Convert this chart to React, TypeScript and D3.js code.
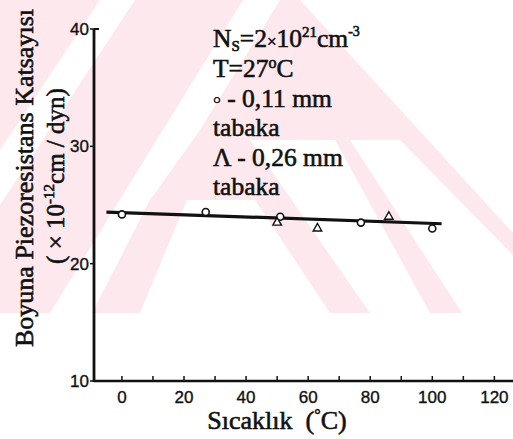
import React from "react";
import * as d3 from "d3";

// values
const circleTemp = [0, 27, 51, 77, 100];
const circleCoef = [24.2, 24.4, 24.0, 23.5, 23.0];
const triTemp = [50, 63, 86];
const triCoef = [23.5, 23.0, 24.0];
const fitTemp = [-5, 103];
const fitCoef = [24.4, 23.4];
const xTicks = [0, 20, 40, 60, 80, 100, 120];
const xMinor = d3.range(0, 130, 10);
const yTicks = [10, 20, 30, 40];

const W = 513;
const H = 439;

const serif = "'Liberation Serif', 'Times New Roman', serif";
const sans = "'Liberation Sans', Arial, sans-serif";
const pink = "#fde8ee";
const ink = "#111";

const App = () => {
  const x = d3.scaleLinear().domain([-9, 126]).range([94, 513]);
  const y = d3.scaleLinear().domain([10, 40]).range([381, 29]);

  const fit = d3
    .line<number>()
    .x((d, i) => x(fitTemp[i]))
    .y((d) => y(d));

  const tri = d3.symbol().type(d3.symbolTriangle).size(32)();

  // background watermark: pink base with white diagonal bands
  const wmBase = "M0,0 L300,0 L513,233 L513,313 L0,313 Z";
  const wmWhite = [
    "M0,150 L100,0 L135,0 L0,205 Z",
    "M50,313 L243,0 L280,0 L200,130 L150,200 L92,313 Z",
    "M187,200 L255,200 L330,313 L140,313 Z",
    "M250,140 L335,140 L430,313 L370,313 Z",
    "M350,140 L400,140 L513,255 L513,313 L462,313 Z",
  ];

  const txt = { stroke: ink, strokeWidth: 0.6 };

  return (
    <svg
      width={W}
      height={H}
      style={{ position: "absolute", left: 0, top: 0, background: "#fff" }}
    >
      <path d={wmBase} fill={pink} />
      <g fill="#fff">
        {wmWhite.map((d, i) => (
          <path key={i} d={d} />
        ))}
      </g>

      {/* y axis */}
      <line x1={x(-9)} x2={x(-9)} y1={y(40)} y2={y(10) + 1} stroke={ink} strokeWidth={2.8} />
      <line x1={x(-9)} x2={x(-9) + 5} y1={y(40)} y2={y(40)} stroke={ink} strokeWidth={2} />
      {yTicks.map((t) => (
        <g key={t}>
          <line x1={x(-9) - 4} x2={x(-9)} y1={y(t)} y2={y(t)} stroke={ink} strokeWidth={1.5} />
          <text
            x={x(-9) - 5}
            y={y(t)}
            dy="0.36em"
            textAnchor="end"
            fontFamily={sans}
            fontSize={17}
            fill={ink}
            stroke={ink}
            strokeWidth={0.35}
          >
            {t}
          </text>
        </g>
      ))}

      {/* x axis */}
      <line x1={x(-9)} x2={W} y1={y(10)} y2={y(10)} stroke={ink} strokeWidth={2.4} />
      {xMinor.map((t) => (
        <line key={t} x1={x(t)} x2={x(t)} y1={y(10)} y2={y(10) - 5} stroke={ink} strokeWidth={1.5} />
      ))}
      {xTicks.map((t) => (
        <text
          key={t}
          x={x(t)}
          y={y(10) + 22}
          textAnchor="middle"
          fontFamily={sans}
          fontSize={17}
          fill={ink}
          stroke={ink}
          strokeWidth={0.35}
        >
          {t}
        </text>
      ))}

      {/* fitted line */}
      <path d={fit(fitCoef) || ""} fill="none" stroke={ink} strokeWidth={3.2} />

      {circleTemp.map((t, i) => (
        <circle
          key={t}
          cx={x(t)}
          cy={y(circleCoef[i])}
          r={3.5}
          fill="#fff"
          stroke={ink}
          strokeWidth={1.6}
        />
      ))}
      {triTemp.map((t, i) => (
        <path
          key={t}
          d={tri}
          transform={`translate(${x(t)},${y(triCoef[i])})`}
          fill="#fff"
          stroke={ink}
          strokeWidth={1.4}
        />
      ))}

      {/* annotation */}
      <g fontFamily={serif} fontSize={25.5} fill={ink} {...txt}>
        <text x={213} y={47}>
          N<tspan fontSize={15} dy={4}>S</tspan>
          <tspan dy={-4}>=2</tspan>
          <tspan fontSize={17}>×</tspan>10
          <tspan fontSize={15} dy={-10}>21</tspan>
          <tspan dy={10}>cm</tspan>
          <tspan fontSize={14} dy={-11}>-3</tspan>
        </text>
        <text x={213} y={77}>
          T=27<tspan fontSize={16} dy={-9}>o</tspan>
          <tspan dy={9}>C</tspan>
        </text>
        <text x={213} y={107}>
          <tspan fontSize={13} dy={-3}>○</tspan>
          <tspan dy={3}> - 0,11 mm</tspan>
        </text>
        <text x={213} y={136}>tabaka</text>
        <text x={213} y={166}>Λ - 0,26 mm</text>
        <text x={213} y={195}>tabaka</text>
      </g>

      {/* axis titles */}
      <text
        transform="translate(33,178) rotate(-90)"
        textAnchor="middle"
        fontFamily={serif}
        fontSize={26}
        fill={ink}
        {...txt}
      >
        Boyuna Piezoresistans Katsayısı
      </text>
      <text
        transform="translate(64,176) rotate(-90)"
        textAnchor="middle"
        fontFamily={serif}
        fontSize={25}
        fill={ink}
        {...txt}
      >
        ( × 10<tspan fontSize={15} dy={-10}>-12</tspan>
        <tspan dy={10}>cm / dyn)</tspan>
      </text>
      <text
        x={277}
        y={429}
        textAnchor="middle"
        fontFamily={serif}
        fontSize={26}
        fill={ink}
        style={{ whiteSpace: "pre" }}
        {...txt}
      >
        Sıcaklık  (<tspan fontSize={16} dy={-9}>°</tspan>
        <tspan dy={9}>C)</tspan>
      </text>
    </svg>
  );
};

export default App;
